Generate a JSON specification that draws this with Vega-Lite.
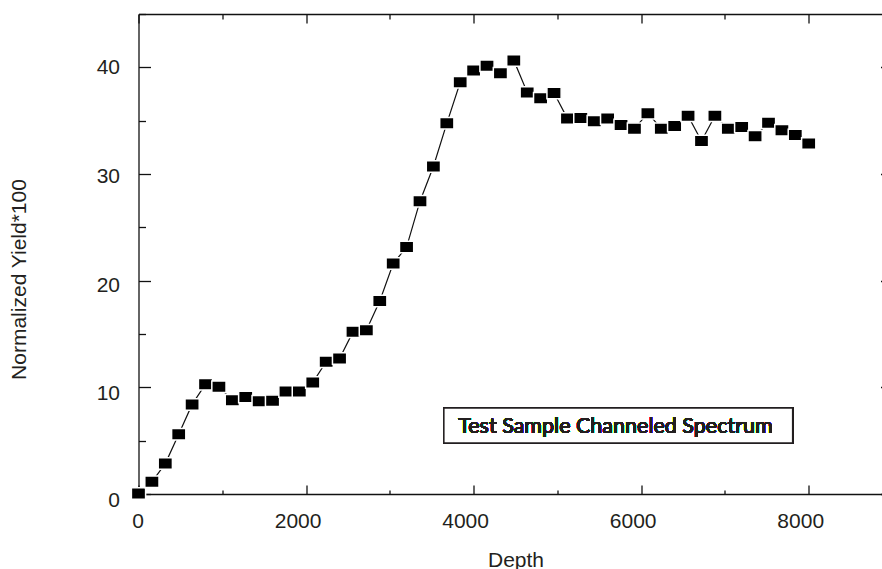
{
  "$schema": "https://vega.github.io/schema/vega-lite/v6.json",
  "width": 754,
  "height": 480,
  "autosize": {"type": "none"},
  "padding": {"left": 138.5, "top": 14, "right": -10.5, "bottom": 75},
  "background": "white",
  "config": {
    "view": {"stroke": null},
    "axis": {
      "grid": false,
      "domainColor": "#111111",
      "domainWidth": 1.3,
      "tickColor": "#111111",
      "tickWidth": 1.3,
      "labelFont": "Liberation Sans",
      "labelFontSize": 21,
      "labelColor": "#231f20",
      "titleFont": "Liberation Sans",
      "titleFontSize": 21,
      "titleFontWeight": "normal",
      "titleColor": "#231f20",
      "labelFlush": false,
      "labelOverlap": false
    }
  },
  "data": {
    "values": [
      {"depth": 0, "yield": 0.05},
      {"depth": 160, "yield": 1.15},
      {"depth": 320, "yield": 2.85},
      {"depth": 480, "yield": 5.6},
      {"depth": 640, "yield": 8.4},
      {"depth": 800, "yield": 10.3},
      {"depth": 960, "yield": 10.05},
      {"depth": 1120, "yield": 8.8},
      {"depth": 1280, "yield": 9.1},
      {"depth": 1440, "yield": 8.7},
      {"depth": 1600, "yield": 8.75},
      {"depth": 1760, "yield": 9.6},
      {"depth": 1920, "yield": 9.6},
      {"depth": 2080, "yield": 10.45},
      {"depth": 2240, "yield": 12.4},
      {"depth": 2400, "yield": 12.7},
      {"depth": 2560, "yield": 15.2},
      {"depth": 2720, "yield": 15.35},
      {"depth": 2880, "yield": 18.1},
      {"depth": 3040, "yield": 21.6},
      {"depth": 3200, "yield": 23.15},
      {"depth": 3360, "yield": 27.45},
      {"depth": 3520, "yield": 30.7},
      {"depth": 3680, "yield": 34.75},
      {"depth": 3840, "yield": 38.6},
      {"depth": 4000, "yield": 39.7},
      {"depth": 4160, "yield": 40.15},
      {"depth": 4320, "yield": 39.45},
      {"depth": 4480, "yield": 40.65},
      {"depth": 4640, "yield": 37.65},
      {"depth": 4800, "yield": 37.1},
      {"depth": 4960, "yield": 37.6},
      {"depth": 5120, "yield": 35.2},
      {"depth": 5280, "yield": 35.25},
      {"depth": 5440, "yield": 34.95},
      {"depth": 5600, "yield": 35.2},
      {"depth": 5760, "yield": 34.6},
      {"depth": 5920, "yield": 34.25},
      {"depth": 6080, "yield": 35.7},
      {"depth": 6240, "yield": 34.25},
      {"depth": 6400, "yield": 34.5},
      {"depth": 6560, "yield": 35.45},
      {"depth": 6720, "yield": 33.1},
      {"depth": 6880, "yield": 35.45},
      {"depth": 7040, "yield": 34.25},
      {"depth": 7200, "yield": 34.4},
      {"depth": 7360, "yield": 33.55},
      {"depth": 7520, "yield": 34.8},
      {"depth": 7680, "yield": 34.1},
      {"depth": 7840, "yield": 33.65},
      {"depth": 8000, "yield": 32.85}
    ]
  },
  "layer": [
    {
      "mark": {"type": "line", "color": "#111111", "strokeWidth": 1.2},
      "encoding": {
        "x": {
          "field": "depth",
          "type": "quantitative",
          "scale": {"domain": [0, 9000], "nice": false, "zero": false},
          "axis": {
            "orient": "bottom",
            "values": [0, 1000, 2000, 3000, 4000, 5000, 6000, 7000, 8000, 9000],
            "format": "d",
            "labelExpr": "datum.value % 2000 === 0 ? datum.label : ''",
            "tickSize": {"condition": {"test": "datum.value % 2000 === 0", "value": -9}, "value": -4},
            "labelPadding": 25,
            "labelOffset": {"condition": {"test": "datum.value === 0", "value": -1}, "value": -8.5},
            "title": "Depth",
            "titleBaseline": "alphabetic",
            "titleY": 72
          }
        },
        "y": {
          "field": "yield",
          "type": "quantitative",
          "scale": {"domain": [0, 45], "nice": false, "zero": false},
          "axis": {
            "orient": "left",
            "values": [0, 5, 10, 15, 20, 25, 30, 35, 40, 45],
            "labelExpr": "datum.value % 10 === 0 ? datum.label : ''",
            "tickSize": {"condition": {"test": "datum.value % 10 === 0", "value": -12}, "value": -7},
            "labelPadding": 31,
            "labelOffset": {
              "condition": [
                {"test": "datum.value <= 10", "value": 6},
                {"test": "datum.value === 20", "value": 5},
                {"test": "datum.value === 30", "value": 2.5}
              ],
              "value": 0
            },
            "title": "Normalized Yield*100",
            "titleBaseline": "alphabetic",
            "titleX": -113.5,
            "titleY": 265
          }
        }
      }
    },
    {
      "mark": {
        "type": "point",
        "shape": "M-1,-0.81L1,-0.81L1,0.81L-1,0.81Z",
        "size": 202,
        "filled": true,
        "fill": "#000000",
        "stroke": "#ffffff",
        "strokeWidth": 1.5,
        "opacity": 1
      },
      "encoding": {
        "x": {
          "field": "depth",
          "type": "quantitative",
          "axis": {
            "orient": "top",
            "values": [0, 1000, 2000, 3000, 4000, 5000, 6000, 7000, 8000, 9000],
            "labels": false,
            "title": null,
            "tickSize": {"condition": {"test": "datum.value % 2000 === 0", "value": -9}, "value": -5}
          }
        },
        "y": {
          "field": "yield",
          "type": "quantitative",
          "axis": {
            "orient": "right",
            "values": [0, 5, 10, 15, 20, 25, 30, 35, 40, 45],
            "labels": false,
            "title": null,
            "tickSize": {"condition": {"test": "datum.value % 10 === 0", "value": -12}, "value": -7}
          }
        }
      }
    },
    {
      "mark": {"type": "rect", "fill": "#ffffff", "stroke": "#231f20", "strokeWidth": 1.3},
      "encoding": {
        "x": {"datum": 3646, "type": "quantitative", "axis": null},
        "x2": {"datum": 7807},
        "y": {"datum": 8.06, "type": "quantitative", "axis": null},
        "y2": {"datum": 4.78}
      }
    },
    {
      "mark": {
        "type": "text",
        "text": "Test Sample Channeled Spectrum",
        "font": "Lato",
        "fontSize": 21.5,
        "color": "#231f20",
        "align": "left",
        "baseline": "alphabetic"
      },
      "encoding": {
        "x": {"datum": 3816, "type": "quantitative", "axis": null},
        "y": {"datum": 5.72, "type": "quantitative", "axis": null}
      }
    }
  ]
}
